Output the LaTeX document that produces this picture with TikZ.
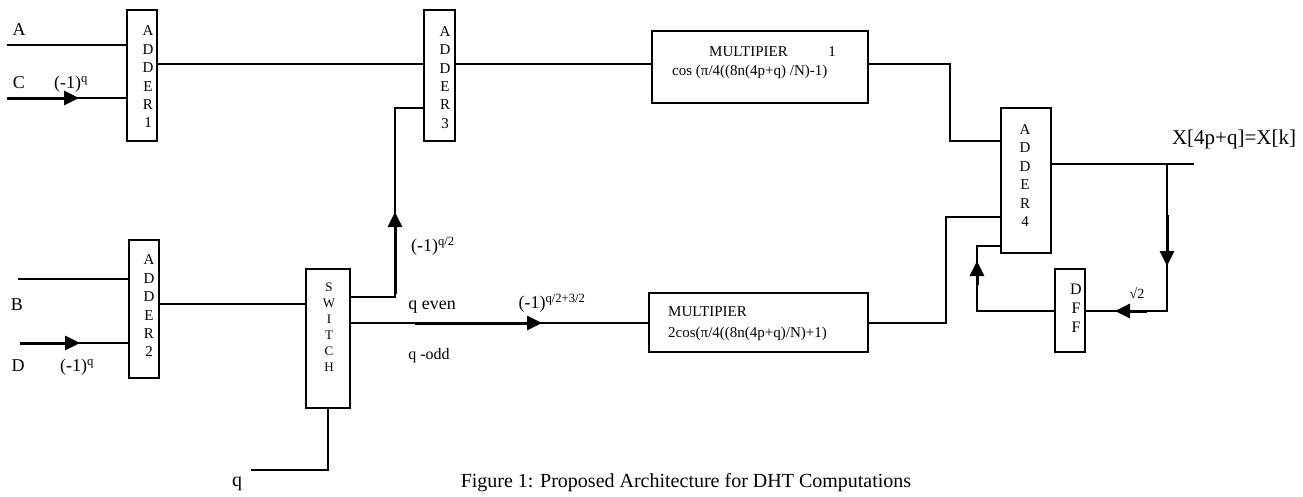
\documentclass[tikz,border=0pt]{standalone}
\usepackage{fontspec}
\setmainfont{Liberation Serif}
\usetikzlibrary{arrows.meta}
\begin{document}
\begin{tikzpicture}[x=1pt,y=-1pt,
 box/.style={draw,line width=1.1pt,inner sep=0pt,outer sep=0pt},
 wire/.style={line width=1.1pt},
 flow/.style={line width=3pt,-{Triangle[length=15pt,width=14pt]}},
 lbl/.style={inner sep=0pt,font=\fontsize{18}{20}\selectfont},
 vlet/.style={inner sep=0pt,align=center,font=\fontsize{15}{18.4}\selectfont},
 mtxt/.style={inner sep=0pt,anchor=west,font=\fontsize{15}{17}\selectfont}]
\useasboundingbox (0,0) rectangle (1303,496);
% boxes
\node[box,minimum width=30pt,minimum height=131pt] (a1) at (142,75.5) {};
\node[box,minimum width=31pt,minimum height=131pt] (a3) at (439.5,75.5) {};
\node[box,minimum width=30pt,minimum height=138pt] (a2) at (144,309) {};
\node[box,minimum width=44pt,minimum height=139pt] (sw) at (328,338.5) {};
\node[box,minimum width=216pt,minimum height=72pt] (m1) at (760,67) {};
\node[box,minimum width=219pt,minimum height=59pt] (m2) at (758.5,322.5) {};
\node[box,minimum width=50pt,minimum height=145pt] (a4) at (1026,180.5) {};
\node[box,minimum width=30pt,minimum height=83pt] (dff) at (1070,310.5) {};
% box texts
\node[vlet] (a1t) at (148,77) {A\\D\\D\\E\\R\\1};
\node[vlet] (a3t) at (445,77.5) {A\\D\\D\\E\\R\\3};
\node[vlet] (a2t) at (149,306) {A\\D\\D\\E\\R\\2};
\node[vlet] (a4t) at (1025,175.5) {A\\D\\D\\E\\R\\4};
\node[vlet,font=\fontsize{13}{16}\selectfont] (swt) at (329,327) {S\\W\\I\\T\\C\\H};
\node[vlet,font=\fontsize{16}{19}\selectfont] (dfft) at (1076,308) {D\\F\\F};
\node[mtxt] (m1a) at (709,52) {MULTIPIER};
\node[mtxt,anchor=center] (m1b) at (832,52) {1};
\node[mtxt] (m1c) at (672,72) {cos (π/4((8n(4p+q) /N)-1)};
\node[mtxt] (m2a) at (668,312) {MULTIPIER};
\node[mtxt] (m2b) at (668,334) {2cos(π/4((8n(4p+q)/N)+1)};
% free ends
\coordinate (inA) at (7,45);
\coordinate (inC) at (7,98);
\coordinate (inB) at (18,279);
\coordinate (inD) at (20,343);
\coordinate (qin) at (251,470);
\coordinate (outX) at (1194,164);
\coordinate (br) at (1167,164);
% connectors
\draw[wire] (inA) -- (inA -| a1.west);
\draw[wire] (inC) -- (inC -| a1.west);
\draw[flow] (inC) -- (79,98);
\draw[wire] (a1.east |- 0,64) -- (a3.west |- 0,64);
\draw[wire] (a3.east |- 0,64) -- (m1.west |- 0,64);
\draw[wire] (m1.east |- 0,64) -| (950,141) -- (a4.west |- 0,141);
\draw[wire] (a4.east |- outX) -- (outX);
\draw[wire] (br) |- (dff.east |- 0,311);
\draw[flow] (1167,215) -- (1167,266);
\draw[flow] (1147,311) -- (1115,311);
\draw[wire] (dff.west |- 0,311) -| (977,246) -- (a4.west |- 0,246);
\draw[flow] (977,285) -- (977,261);
\draw[wire] (m2.east |- 0,323) -| (946,217) -- (a4.west |- 0,217);
\draw[wire] (sw.east |- 0,323) -- (m2.west |- 0,323);
\draw[flow] (415,323) -- (542,323);
\draw[wire] (sw.east |- 0,297) -| (395,108) -- (a3.west |- 0,108);
\draw[flow] (395,294) -- (395,212);
\draw[wire] (a2.east |- 0,304) -- (sw.west |- 0,304);
\draw[wire] (inB) -- (inB -| a2.west);
\draw[wire] (inD) -- (inD -| a2.west);
\draw[flow] (inD) -- (80,343);
\draw[wire] (qin) -| (sw.south);
% labels
\node[lbl] (lA) at (19,30) {A};
\node[lbl] (lC) at (19,83) {C};
\node[lbl] (lq1) at (71,84) {(-1)\textsuperscript{q}};
\node[lbl] (lB) at (17,305) {B};
\node[lbl] (lD) at (18,366) {D};
\node[lbl] (lq2) at (77,367) {(-1)\textsuperscript{q}};
\node[lbl,font=\fontsize{20}{22}\selectfont] (lq) at (237,484) {q};
\node[lbl] (lq3) at (433,246) {(-1)\textsuperscript{q/2}};
\node[lbl] (lev) at (432,307) {q even};
\node[lbl] (lq4) at (552,303) {(-1)\textsuperscript{q/2+3/2}};
\node[lbl,font=\fontsize{16}{18}\selectfont] (lod) at (429,356) {q -odd};
\node[lbl,font=\fontsize{21}{23}\selectfont] (lX) at (1234,139) {X[4p+q]=X[k]};
\node[lbl,font=\fontsize{14}{16}\selectfont] (ls2) at (1137,293) {√2};
\node[lbl,font=\fontsize{20}{22}\selectfont] (cap) at (686,483) {Figure 1: Proposed Architecture for DHT Computations};
\end{tikzpicture}
\end{document}
